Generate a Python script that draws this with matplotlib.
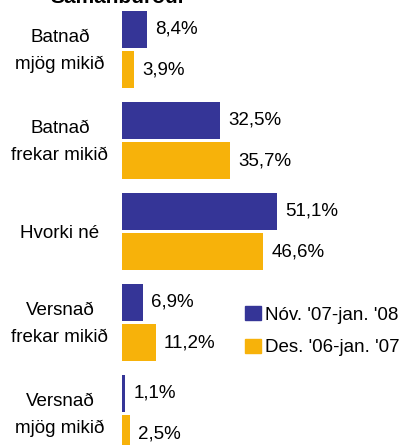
import matplotlib.pyplot as plt
from matplotlib.patches import Patch

plt.rcParams['font.family'] = ['Liberation Sans', 'DejaVu Sans']

categories = ['Batnað\nmjög mikið', 'Batnað\nfrekar mikið', 'Hvorki né',
              'Versnað\nfrekar mikið', 'Versnað\nmjög mikið']
nov07 = [8.4, 32.5, 51.1, 6.9, 1.1]
des06 = [3.9, 35.7, 46.6, 11.2, 2.5]
series_names = ["Nóv. '07-jan. '08", "Des. '06-jan. '07"]

blue = '#353597'
orange = '#F7B20A'

fig = plt.figure(figsize=(4.06, 4.45), dpi=100)
W, H = 406, 445
ax = fig.add_axes([122 / W, 0, 284 / W, 1])
ax.axis('off')

# 91 px per group, first group centred at 49.5 px from the top
ax.set_xlim(0, 284 / 3.03)
ax.set_ylim((H - 49.5) / 91, -49.5 / 91)

h = 37 / 91
off = 20.2 / 91
y = list(range(len(categories)))

ax.barh([i - off for i in y], nov07, height=h, color=blue)
ax.barh([i + off for i in y], des06, height=h, color=orange)

def fmt(v):
    return ('%.1f%%' % v).replace('.', ',')

fs = 13.5
for i in y:
    ax.annotate(fmt(nov07[i]), (nov07[i], i - off), xytext=(5.8, 0),
                textcoords='offset points', va='center', ha='left', fontsize=fs)
    ax.annotate(fmt(des06[i]), (des06[i], i + off), xytext=(5.8, 0),
                textcoords='offset points', va='center', ha='left', fontsize=fs)
    ax.text(-20.5, i + 0.02, categories[i], ha='center', va='center', fontsize=fs,
            linespacing=1.75, clip_on=False)

handles = [Patch(color=blue), Patch(color=orange)]
fig.legend(handles, series_names, loc='center left',
           bbox_to_anchor=(245 / W, 1 - 331 / H), frameon=False, fontsize=fs,
           handlelength=0.85, handleheight=0.85, handletextpad=0.2,
           labelspacing=0.8, borderpad=0, borderaxespad=0)

fig.text(118 / W, 1 - 3 / H, 'Samanburður', ha='center', va='baseline',
         fontsize=15, fontweight='bold')

fig.savefig('out.png', dpi=100)
